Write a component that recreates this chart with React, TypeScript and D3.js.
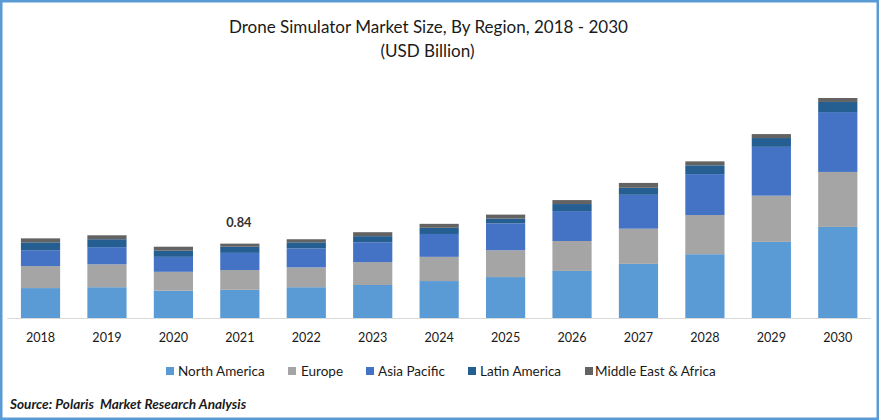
import React from "react";
import * as d3 from "d3";

const years = ["2018","2019","2020","2021","2022","2023","2024","2025","2026","2027","2028","2029","2030"];
const regions = ["North America","Europe","Asia Pacific","Latin America","Middle East & Africa"];
const northAmerica = [0.34,0.35,0.31,0.32,0.35,0.375,0.42,0.465,0.535,0.615,0.725,0.865,1.035];
const europe = [0.25,0.26,0.215,0.225,0.225,0.26,0.275,0.305,0.34,0.40,0.445,0.525,0.625];
const asiaPacific = [0.18,0.195,0.17,0.195,0.215,0.225,0.26,0.305,0.34,0.385,0.465,0.555,0.68];
const latinAmerica = [0.09,0.09,0.07,0.07,0.07,0.07,0.07,0.055,0.08,0.08,0.10,0.10,0.115];
const middleEastAfrica = [0.045,0.045,0.045,0.035,0.035,0.045,0.045,0.045,0.045,0.055,0.045,0.045,0.045];
const colors = ["#5b9bd5","#a5a5a5","#4472c4","#255e91","#636363"];
const annotationYear = "2021";
const annotationText = "0.84";

const W = 879, H = 420;
const FONT = "Lato, 'Open Sans', sans-serif";
const INK = "#1a1a1a";

export default function App() {
  const x = d3.scaleBand<string>().domain(years).range([7.3, 871]).paddingInner(0.41).paddingOuter(0.205);
  const y = d3.scaleLinear().domain([0, 1]).range([318, 230]);
  const rows = years.map((yr, i) => ({
    year: yr,
    [regions[0]]: northAmerica[i],
    [regions[1]]: europe[i],
    [regions[2]]: asiaPacific[i],
    [regions[3]]: latinAmerica[i],
    [regions[4]]: middleEastAfrica[i],
  })) as any[];
  const stacked = d3.stack<any>().keys(regions)(rows);
  const legendX = [166, 288, 366, 468, 585];
  const legendGap = [12, 13, 12, 12, 10];
  const tickCenter = (yr: string) => (x(yr) as number) + x.bandwidth() / 2;
  const annotationTop = y(d3.sum(stacked.map(s => s[years.indexOf(annotationYear)][1] - s[years.indexOf(annotationYear)][0])));

  return (
    <svg width={W} height={H} viewBox={`0 0 ${W} ${H}`} style={{ position: "absolute", left: 0, top: 0, background: "#fff" }}>
      <rect x={1.25} y={1.25} width={W - 2.5} height={H - 2.5} fill="#fff" stroke="#5b9bd5" strokeWidth={2.5} />
      <g fontFamily={FONT} fill={INK} textAnchor="middle" fontSize={17.05}>
        <text x={428.5} y={33}>Drone Simulator Market Size, By Region, 2018 - 2030</text>
        <text x={427.5} y={56.5}>(USD Billion)</text>
      </g>
      {stacked.map((s, k) => (
        <g key={regions[k]} fill={colors[k]}>
          {s.map((d, i) => (
            <rect key={years[i]} x={x(years[i])} width={x.bandwidth()} y={y(d[1])} height={y(d[0]) - y(d[1])} />
          ))}
        </g>
      ))}
      <line x1={7.3} x2={871} y1={318.5} y2={318.5} stroke="#d9d9d9" strokeWidth={1} />
      <g fontFamily={FONT} fontSize={12.6} fill={INK} textAnchor="middle">
        {years.map(yr => (
          <text key={yr} x={tickCenter(yr)} y={341.5}>{yr}</text>
        ))}
      </g>
      <text x={tickCenter(annotationYear) - 1} y={annotationTop - 16.5} textAnchor="middle" fontFamily={FONT} fontWeight={700} fontSize={12.8} fill="#333">{annotationText}</text>
      <g fontFamily={FONT} fontSize={13.5} fill={INK}>
        {regions.map((r, i) => (
          <g key={r}>
            <rect x={legendX[i]} y={367} width={8} height={8} fill={colors[i]} />
            <text x={legendX[i] + legendGap[i]} y={376}>{r}</text>
          </g>
        ))}
      </g>
      <text x={10} y={409} fontFamily={FONT} fontWeight={700} fontStyle="italic" fontSize={13.6} fill="#1a1a1a">Source: Polaris&#160; Market Research Analysis</text>
    </svg>
  );
}
